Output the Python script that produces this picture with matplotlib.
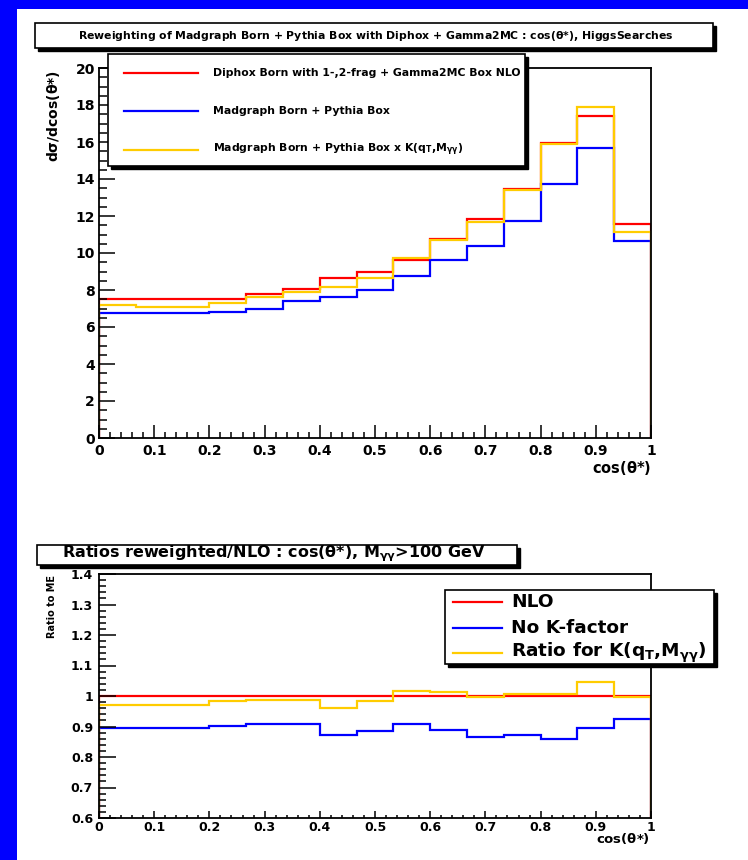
import matplotlib
matplotlib.use("Agg")
import matplotlib.pyplot as plt
import numpy as np
from matplotlib.patches import Rectangle
from matplotlib.lines import Line2D
from matplotlib.ticker import MultipleLocator, FormatStrFormatter

# 15 bins in cos(theta*)
edges = np.linspace(0, 1, 16)

# d sigma / d cos(theta*)
nlo    = [7.5, 7.5, 7.5, 7.5, 7.78, 8.08, 8.64, 8.95, 9.6, 10.76, 11.83, 13.47, 15.97, 17.43, 11.55]
born   = [6.73, 6.73, 6.73, 6.82, 7.0, 7.41, 7.61, 8.01, 8.73, 9.62, 10.4, 11.72, 13.74, 15.7, 10.67]
born_k = [7.2, 7.09, 7.09, 7.3, 7.6, 7.88, 8.17, 8.66, 9.71, 10.69, 11.65, 13.38, 15.91, 17.9, 11.16]

# ratios to NLO
ratio_nlo = [1.0] * 15
ratio_nok = [0.895, 0.895, 0.895, 0.902, 0.908, 0.908, 0.872, 0.884, 0.908, 0.890, 0.866, 0.872, 0.860, 0.895, 0.925]
ratio_k   = [0.972, 0.972, 0.972, 0.982, 0.988, 0.988, 0.960, 0.982, 1.017, 1.013, 0.996, 1.007, 1.007, 1.046, 0.996]

top_labels = ["Diphox Born with 1-,2-frag + Gamma2MC Box NLO",
              "Madgraph Born + Pythia Box",
              r"Madgraph Born + Pythia Box x K(q$_{T}$,M$_{\gamma\gamma}$)"]
bot_labels = ["NLO", "No K-factor", r"Ratio for K(q$_{T}$,M$_{\gamma\gamma}$)"]
colors = ["#ff0000", "#0000ff", "#ffcc00"]

W, H = 748, 860
plt.rcParams['font.family'] = ['DejaVu Sans']
plt.rcParams['font.weight'] = 'bold'
plt.rcParams['mathtext.default'] = 'bf'

fig = plt.figure(figsize=(W / 100, H / 100), dpi=100, facecolor="#0000ff")

def fx(x):
    return x / W

def fy(y):
    return 1 - y / H

# white page on the blue background
fig.add_artist(Rectangle((fx(17), 0), 1, fy(9), facecolor="white", edgecolor="none",
                         transform=fig.transFigure, zorder=-10))

def box(x0, y0, x1, y1, sh=3):
    fig.add_artist(Rectangle((fx(x0 + sh), fy(y1 + sh)), (x1 - x0) / W, (y1 - y0) / H,
                             facecolor="black", edgecolor="black", transform=fig.transFigure, zorder=4))
    fig.add_artist(Rectangle((fx(x0), fy(y1)), (x1 - x0) / W, (y1 - y0) / H,
                             facecolor="white", edgecolor="black", lw=1.2,
                             transform=fig.transFigure, zorder=5))

def style_axes(ax, ymaj, ymin, xlen, ylen, size, xpad, ypad):
    ax.set_xlim(0, 1)
    ax.xaxis.set_major_locator(MultipleLocator(0.1))
    ax.xaxis.set_minor_locator(MultipleLocator(0.02))
    ax.yaxis.set_major_locator(MultipleLocator(ymaj))
    ax.yaxis.set_minor_locator(MultipleLocator(ymin))
    ax.xaxis.set_major_formatter(FormatStrFormatter("%g"))
    ax.yaxis.set_major_formatter(FormatStrFormatter("%g"))
    ax.tick_params(which="both", direction="in", top=False, right=False, width=1.1, labelsize=size)
    ax.tick_params(axis="x", which="major", length=xlen[0], pad=xpad)
    ax.tick_params(axis="x", which="minor", length=xlen[1])
    ax.tick_params(axis="y", which="major", length=ylen[0], pad=ypad)
    ax.tick_params(axis="y", which="minor", length=ylen[1])
    for s in ax.spines.values():
        s.set_linewidth(1.3)

# ---- top panel ----
ax1 = fig.add_axes([fx(99), fy(438), (651 - 99) / W, (438 - 68) / H])
ax1.stairs(nlo, edges, color=colors[0], lw=1.6)
ax1.stairs(born, edges, color=colors[1], lw=1.6)
ax1.stairs(born_k, edges, color=colors[2], lw=1.6)
ax1.set_ylim(0, 20)
style_axes(ax1, 2, 0.5, (9.4, 4.3), (11.5, 5.8), 10, 4, 3)

fig.text(fx(54), fy(70), r"d$\sigma$/dcos($\theta$*)", rotation=90, ha="center", va="top", fontsize=10)
fig.text(fx(651), fy(468), r"cos($\theta$*)", ha="right", va="center", fontsize=10.5)

box(35, 23, 713, 48)
fig.text(fx(376), fy(36), r"Reweighting of Madgraph Born + Pythia Box with Diphox + Gamma2MC : cos($\theta$*), HiggsSearches",
         ha="center", va="center", fontsize=7.8, zorder=6)

box(108, 54, 525, 166)
for i, (lab, c) in enumerate(zip(top_labels, colors)):
    yy = [73, 111, 150][i]
    fig.add_artist(Line2D([fx(124), fx(198)], [fy(yy), fy(yy)], color=c, lw=1.6,
                          transform=fig.transFigure, zorder=6))
    fig.text(fx(213), fy(yy), lab, ha="left", va="center", fontsize=7.8, zorder=6)

# ---- ratio panel ----
ax2 = fig.add_axes([fx(99), fy(818), (651 - 99) / W, (818 - 574) / H])
ax2.stairs(ratio_nlo, edges, color=colors[0], lw=1.6)
ax2.stairs(ratio_nok, edges, color=colors[1], lw=1.6)
ax2.stairs(ratio_k, edges, color=colors[2], lw=1.6)
ax2.set_ylim(0.6, 1.4)
style_axes(ax2, 0.1, 0.02, (5, 2.5), (12, 5), 9, 2, 4.3)

fig.text(fx(52), fy(575), "Ratio to ME", rotation=90, ha="center", va="top", fontsize=7)
fig.text(fx(650), fy(839), r"cos($\theta$*)", ha="right", va="center", fontsize=9.5)

box(37, 545, 517, 565)
fig.text(fx(62), fy(554), r"Ratios reweighted/NLO : cos($\theta$*), M$_{\gamma\gamma}$>100 GeV",
         ha="left", va="center", fontsize=11.5, zorder=6)

box(445, 590, 714, 664)
for i, (lab, c) in enumerate(zip(bot_labels, colors)):
    yy = [602, 628, 653][i]
    fig.add_artist(Line2D([fx(453), fx(502)], [fy(yy), fy(yy)], color=c, lw=1.6,
                          transform=fig.transFigure, zorder=6))
    fig.text(fx(511), fy(yy), lab, ha="left", va="center", fontsize=13.3, zorder=6)

fig.savefig("out.png", dpi=100, facecolor=fig.get_facecolor())
